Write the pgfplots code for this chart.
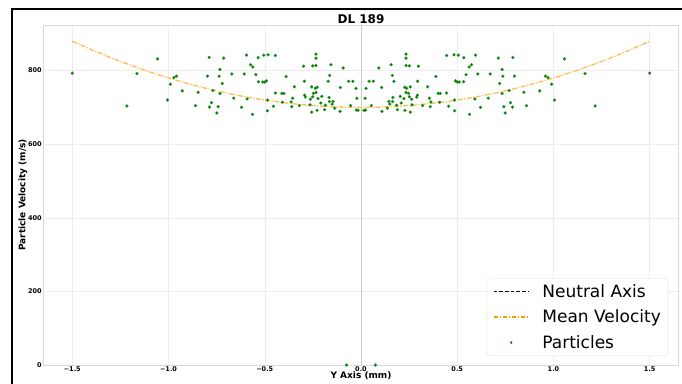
\documentclass[border=0pt]{standalone}
\usepackage{pgfplots}
\pgfplotsset{compat=1.18}
\usepackage{fontspec}
\setmainfont{DejaVu Sans}
\definecolor{pgreen}{RGB}{0,128,0}
\definecolor{morange}{RGB}{255,188,80}
\definecolor{lorange}{RGB}{255,155,0}
\pgfplotstableread{
x y
0.093 807
0.156 816
0.163 787
0.171 771
0.234 845
0.234 834
0.234 814
0.251 813
0.298 812
0.026 752
0.042 771
0.064 771
0.107 754
0.228 755
0.237 752
0.256 756
0.294 771
0.021 725
0.054 705
0.109 689
0.137 698
0.145 716
0.150 709
0.166 727
0.164 716
0.185 706
0.189 694
0.204 730
0.209 712
0.223 724
0.228 692
0.234 741
0.247 738
0.251 729
0.256 687
0.263 722
0.265 707
0.289 728
0.293 733
0.320 705
0.024 693
0.015 692
0.445 841
0.483 843
0.505 842
0.534 835
0.595 842
0.713 834
0.789 836
0.574 816
0.562 810
0.733 803
0.389 784
0.546 789
0.607 791
0.671 791
0.737 785
0.797 785
0.958 785
0.972 781
0.491 772
0.500 769
0.510 769
0.533 770
0.346 756
0.720 765
0.770 746
0.733 738
0.846 741
0.929 745
0.401 738
0.412 738
0.445 739
0.355 725
0.363 715
0.408 714
0.486 720
0.592 723
0.661 725
0.360 702
0.455 703
0.621 700
0.742 702
0.777 713
0.787 701
0.860 705
0.486 691
0.564 681
0.749 685
1.057 832
0.990 763
1.164 792
1.500 793
1.005 720
1.216 704
0.075 0
-0.093 807
-0.156 816
-0.163 787
-0.171 771
-0.234 845
-0.234 834
-0.234 814
-0.251 813
-0.298 812
-0.026 752
-0.042 771
-0.064 771
-0.107 754
-0.228 755
-0.237 752
-0.256 756
-0.294 771
-0.021 725
-0.054 705
-0.109 689
-0.137 698
-0.145 716
-0.150 709
-0.166 727
-0.164 716
-0.185 706
-0.189 694
-0.204 730
-0.209 712
-0.223 724
-0.228 692
-0.234 741
-0.247 738
-0.251 729
-0.256 687
-0.263 722
-0.265 707
-0.289 728
-0.293 733
-0.320 705
-0.024 693
-0.015 692
-0.445 841
-0.483 843
-0.505 842
-0.534 835
-0.595 842
-0.713 834
-0.789 836
-0.574 816
-0.562 810
-0.733 803
-0.389 784
-0.546 789
-0.607 791
-0.671 791
-0.737 785
-0.797 785
-0.958 785
-0.972 781
-0.491 772
-0.500 769
-0.510 769
-0.533 770
-0.346 756
-0.720 765
-0.770 746
-0.733 738
-0.846 741
-0.929 745
-0.401 738
-0.412 738
-0.445 739
-0.355 725
-0.363 715
-0.408 714
-0.486 720
-0.592 723
-0.661 725
-0.360 702
-0.455 703
-0.621 700
-0.742 702
-0.777 713
-0.787 701
-0.860 705
-0.486 691
-0.564 681
-0.749 685
-1.057 832
-0.990 763
-1.164 792
-1.500 793
-1.005 720
-1.216 704
-0.075 0
}\particles
\begin{document}
\begin{tikzpicture}[x=1pt,y=1pt]
\useasboundingbox (0,0) rectangle (682,383);
\begin{axis}[
  at={(43.4pt,18pt)}, anchor=south west,
  scale only axis, width=635.2pt, height=340pt,
  xmin=-1.65, xmax=1.65, ymin=0, ymax=924,
  xtick={-1.5,-1,-0.5,0,0.5,1,1.5},
  xticklabels={−1.5,−1.0,−0.5,0.0,0.5,1.0,1.5},
  ytick={0,200,400,600,800},
  yticklabels={0,200,400,600,800},
  major tick length=0pt,
  tick label style={font=\fontsize{6.5}{7}\selectfont\bfseries},
  xticklabel style={inner sep=1.5pt},
  yticklabel style={inner sep=1.5pt},
  grid=major,
  major grid style={black!7, line width=0.5pt},
  axis line style={black!15, line width=0.6pt},
  title={DL 189},
  title style={font=\fontsize{12}{14}\selectfont\bfseries, at={(axis description cs:0.5,1)}, anchor=center},
  xlabel={Y Axis (mm)},
  xlabel style={font=\fontsize{9}{11}\selectfont\bfseries, at={(axis description cs:0.5,0)}, anchor=center, yshift=-11pt},
  ylabel={Particle Velocity (m/s)},
  ylabel style={font=\fontsize{9}{11}\selectfont\bfseries, at={(axis description cs:-0.0321,0.5)}, anchor=center},
  legend style={at={(0.9833,0.0265)}, anchor=south east, draw=black!12, rounded corners=3pt, fill=white,
    font=\fontsize{17}{20}\selectfont, row sep=9pt, inner xsep=6pt, inner ysep=5pt,
    nodes={inner sep=1pt},
    /tikz/every odd column/.append style={column sep=12pt}},
  legend cell align=left,
]
\addlegendimage{legend image code/.code={\draw[black, line width=0.8pt, dash pattern=on 3.5pt off 2.2pt] (0pt,0pt) -- (35pt,0pt);}}
\addlegendentry{Neutral Axis}
\addplot[black!20, line width=0.5pt, forget plot] coordinates {(0,0) (0,924)};
\addplot[morange, line width=1.3pt, dash pattern=on 5pt off 1.5pt on 1.2pt off 1.5pt, forget plot] coordinates {
(-1.5,880) (-1.4,856.8) (-1.3,835.2) (-1.2,815.2) (-1.1,796.8) (-1.0,780) (-0.9,764.8) (-0.8,751.2)
(-0.7,739.2) (-0.6,728.8) (-0.5,720) (-0.4,712.8) (-0.3,707.2) (-0.2,703.2) (-0.1,700.8) (0,700)
(0.1,700.8) (0.2,703.2) (0.3,707.2) (0.4,712.8) (0.5,720) (0.6,728.8) (0.7,739.2) (0.8,751.2)
(0.9,764.8) (1.0,780) (1.1,796.8) (1.2,815.2) (1.3,835.2) (1.4,856.8) (1.5,880)};
\addlegendimage{legend image code/.code={\draw[lorange, line width=1.5pt, dash pattern=on 4.5pt off 1.5pt on 1.5pt off 1.5pt] (0pt,0pt) -- (35pt,0pt);}}
\addlegendentry{Mean Velocity}
\addplot[only marks, mark=*, mark size=1.5pt, pgreen, mark options={draw=pgreen!80!white, line width=0.3pt},
  legend image code/.code={\fill[pgreen] (17.5pt,0pt) circle (1pt);}] table[x=x, y=y] {\particles};
\addlegendentry{Particles}
\end{axis}
\draw[line width=1.8pt] (12,-10) -- (12,373.7) -- (700,373.7);
\end{tikzpicture}
\end{document}
